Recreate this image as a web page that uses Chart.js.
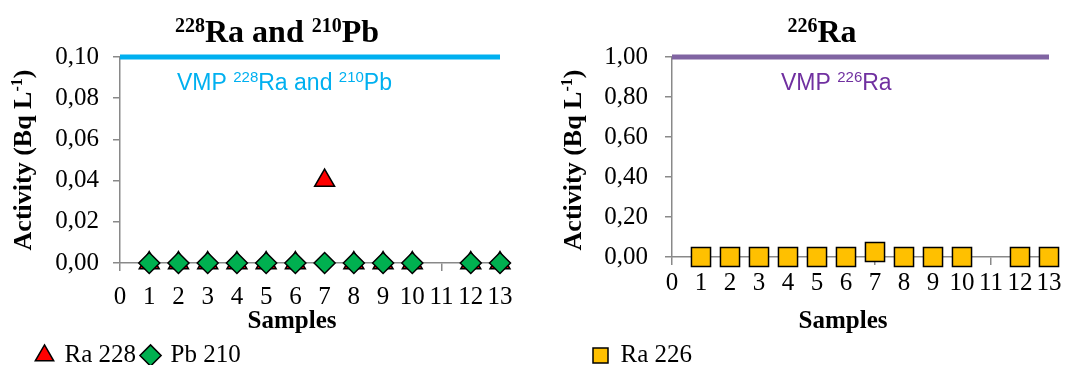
<!DOCTYPE html>
<html><head><meta charset="utf-8">
<script src="https://cdn.jsdelivr.net/npm/chart.js@4.4.1/dist/chart.umd.min.js"></script>
<style>
html,body{margin:0;padding:0;background:#fff;}
#wrap{position:relative;width:1083px;height:365px;overflow:hidden;}
.box{position:absolute;top:0;height:365px;}
</style></head><body>
<div id="wrap">
<div class="box" style="left:0;width:541px"><canvas id="c1"></canvas></div>
<div class="box" style="left:541px;width:542px"><canvas id="c2"></canvas></div>
</div>
<script>
// ---- data ----
const samples = [1, 2, 3, 4, 5, 6, 7, 8, 9, 10, 12, 13];
const ra228 = [0, 0, 0, 0, 0, 0, 0.04, 0, 0, 0, 0, 0];
const pb210 = [0, 0, 0, 0, 0, 0, 0, 0, 0, 0, 0, 0];
const ra226 = [0, 0, 0, 0, 0, 0, 0.025, 0, 0, 0, 0, 0];
const vmpLeft = 0.10;
const vmpRight = 1.00;
const xTickValues = [0, 1, 2, 3, 4, 5, 6, 7, 8, 9, 10, 11, 12, 13];
const yTicksLeft = [0, 0.02, 0.04, 0.06, 0.08, 0.10];
const yTicksRight = [0, 0.2, 0.4, 0.6, 0.8, 1.0];
const seriesNames = ['Ra 228', 'Pb 210', 'Ra 226'];
const titleLeft = [['228', true], ['Ra and ', false], ['210', true], ['Pb', false]];
const titleRight = [['226', true], ['Ra', false]];
const vmpLeftText = [['VMP ', false], ['228', true], ['Ra and ', false], ['210', true], ['Pb', false]];
const vmpRightText = [['VMP ', false], ['226', true], ['Ra', false]];
const yTitle = [['Activity (Bq L', false], ['-1', true], [')', false]];
const xTitle = [['Samples', false]];

const pts = (ys) => samples.map((x, i) => ({x, y: ys[i]}));
const hline = (v) => [{x: xTickValues[0], y: v}, {x: xTickValues[xTickValues.length - 1], y: v}];

const AXIS = '#898989';
const SERIF = '"Liberation Serif", "Times New Roman", serif';
const SANS = '"Liberation Sans", Arial, sans-serif';

function drawRich(ctx, it) {
  ctx.save();
  ctx.fillStyle = it.color || '#000';
  ctx.textBaseline = 'alphabetic';
  ctx.textAlign = 'left';
  let w = 0;
  const parts = it.segs.map(([t, sup]) => {
    ctx.font = sup ? it.supFont : it.font;
    const mw = ctx.measureText(t).width; w += mw;
    return {t, sup, mw};
  });
  ctx.translate(it.x, it.y);
  if (it.rotate) ctx.rotate(it.rotate);
  let x = it.align === 'center' ? -w / 2 : 0;
  for (const p of parts) {
    ctx.font = p.sup ? it.supFont : it.font;
    ctx.fillText(p.t, x, p.sup ? -it.raise : 0);
    x += p.mw;
  }
  ctx.restore();
}

const richPlugin = {
  id: 'richText',
  afterLayout(chart, args, opts) {
    const lg = chart.legend;
    if (lg && opts.legendShift) { lg.top += opts.legendShift; lg.bottom += opts.legendShift; }
  },
  afterDraw(chart, args, opts) {
    (opts.items || []).forEach(it => drawRich(chart.ctx, it));
  }
};

function makeChart(id, cfg) {
  const fmt = v => Number(v).toFixed(2).replace('.', ',');
  return new Chart(document.getElementById(id), {
    type: 'scatter',
    data: {datasets: cfg.datasets},
    plugins: [richPlugin],
    options: {
      responsive: true,
      maintainAspectRatio: false,
      animation: false,
      layout: {padding: cfg.padding},
      plugins: {
        tooltip: {enabled: false},
        title: {display: false},
        legend: {
          display: true,
          position: 'bottom',
          align: 'start',
          labels: {
            usePointStyle: true,
            boxHeight: 15,
            boxWidth: 15,
            padding: 7,
            color: '#000',
            font: {family: SERIF, size: 25},
            filter: (item) => item.text !== 'VMP',
            sort: (a, b) => a.datasetIndex - b.datasetIndex
          }
        },
        richText: {items: cfg.texts, legendShift: 15}
      },
      scales: {
        x: {
          type: 'linear',
          min: xTickValues[0],
          max: xTickValues[xTickValues.length - 1],
          afterBuildTicks: s => { s.ticks = xTickValues.map(v => ({value: v})); },
          afterFit: s => { s.height = s.chart.height - cfg.bottom - s.chart.legend.height - cfg.padding.bottom; },
          grid: {drawOnChartArea: false, drawTicks: true, tickLength: 8, color: AXIS, lineWidth: 1.5},
          border: {color: AXIS, width: 1.5},
          ticks: {color: '#000', font: {family: SERIF, size: 25}, padding: cfg.xPad, maxRotation: 0, autoSkip: false,
            callback: v => String(v)}
        },
        y: {
          type: 'linear',
          min: cfg.yTicks[0],
          max: cfg.yTicks[cfg.yTicks.length - 1],
          afterBuildTicks: s => { s.ticks = cfg.yTicks.map(v => ({value: v})); },
          afterFit: s => { s.width = cfg.yWidth; },
          grid: {drawOnChartArea: false, drawTicks: true, tickLength: 7, color: AXIS, lineWidth: 1.5},
          border: {color: AXIS, width: 1.5},
          ticks: {color: '#000', font: {family: SERIF, size: 25}, padding: cfg.yPad, callback: v => fmt(v)}
        }
      }
    }
  });
}

const titleFont = 'bold 32px ' + SERIF, titleSup = 'bold 20px ' + SERIF;
const axFont = 'bold 26px ' + SERIF, axSup = 'bold 16px ' + SERIF;
const vmpFont = '23px ' + SANS, vmpSup = '15px ' + SANS;

makeChart('c1', {
  padding: {left: 30, top: 57, right: 41, bottom: 2},
  bottom: 263,
  yWidth: 90,
  xPad: 11,
  yPad: 14,
  yTicks: yTicksLeft,
  datasets: [
    {label: seriesNames[0], data: pts(ra228), order: 2, pointStyle: 'triangle', pointRadius: 11.5,
      backgroundColor: '#FF0000', borderColor: '#000', borderWidth: 1.5, clip: false},
    {label: seriesNames[1], data: pts(pb210), order: 1, pointStyle: 'rectRot', pointRadius: 10.5,
      backgroundColor: '#00B050', borderColor: '#000', borderWidth: 1.5, clip: false},
    {label: 'VMP', type: 'line', data: hline(vmpLeft), order: 3, borderColor: '#00B0F0', borderWidth: 5,
      pointRadius: 0, clip: false}
  ],
  texts: [
    {segs: titleLeft, x: 277, y: 42, font: titleFont, supFont: titleSup, raise: 10, align: 'center'},
    {segs: vmpLeftText, x: 177, y: 90, font: vmpFont, supFont: vmpSup, raise: 8, color: '#00B0F0'},
    {segs: yTitle, x: 31, y: 160, font: axFont, supFont: axSup, raise: 9, align: 'center', rotate: -Math.PI / 2},
    {segs: xTitle, x: 292, y: 328, font: 'bold 25px ' + SERIF, supFont: axSup, raise: 0, align: 'center'}
  ]
});

makeChart('c2', {
  padding: {left: 45, top: 57, right: 34, bottom: 2},
  bottom: 257,
  yWidth: 86,
  xPad: 3,
  yPad: 17,
  yTicks: yTicksRight,
  datasets: [
    {label: seriesNames[2], data: pts(ra226), order: 1, pointStyle: 'rect', pointRadius: 13.5,
      backgroundColor: '#FFC000', borderColor: '#000', borderWidth: 1.5, clip: false},
    {label: 'VMP', type: 'line', data: hline(vmpRight), order: 3, borderColor: '#8064A2', borderWidth: 5,
      pointRadius: 0, clip: false}
  ],
  texts: [
    {segs: titleRight, x: 281, y: 42, font: titleFont, supFont: titleSup, raise: 10, align: 'center'},
    {segs: vmpRightText, x: 240, y: 90, font: vmpFont, supFont: vmpSup, raise: 8, color: '#7030A0'},
    {segs: yTitle, x: 40, y: 160, font: axFont, supFont: axSup, raise: 9, align: 'center', rotate: -Math.PI / 2},
    {segs: xTitle, x: 302, y: 328, font: 'bold 25px ' + SERIF, supFont: axSup, raise: 0, align: 'center'}
  ]
});
</script>
</body></html>
